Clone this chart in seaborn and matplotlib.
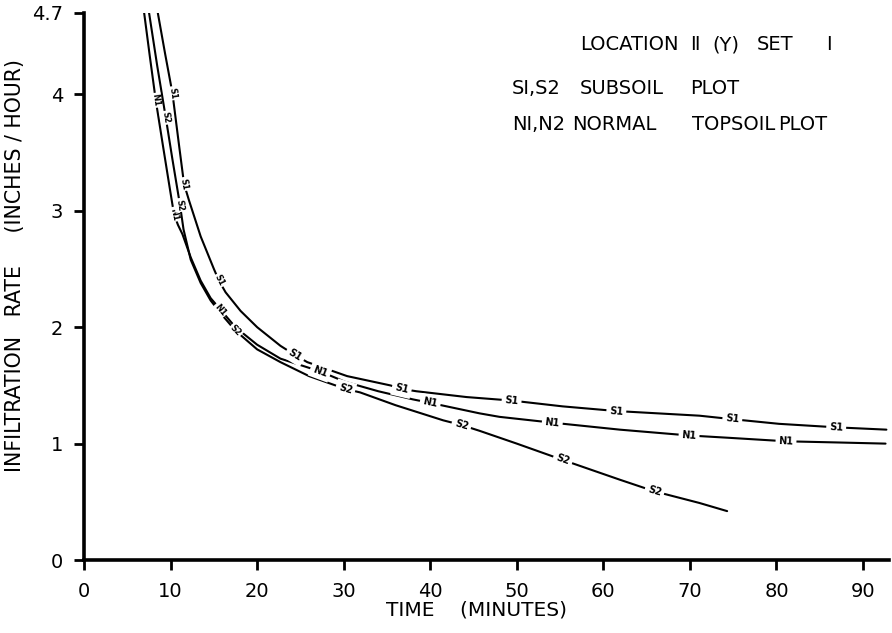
import numpy as np
import pandas as pd
import matplotlib
matplotlib.use("Agg")
import matplotlib.pyplot as plt
import seaborn as sns

# ---- data ----
s1_time = [8.53, 9.37, 10.22, 10.9, 11.56, 12.13, 13.48, 15.01, 15.59, 16.36, 18.09, 20.01, 22.7, 24.4, 25.8,
           30.4, 35.4, 36.7, 38.4, 44.2, 49.4, 55.3, 61.5, 71.1, 74.9, 80.3, 86.9, 92.7]
s1_rate = [4.70, 4.35, 4.01, 3.61, 3.23, 3.09, 2.78, 2.50, 2.40, 2.30, 2.14, 2.00, 1.84, 1.76, 1.70,
           1.58, 1.50, 1.47, 1.45, 1.40, 1.37, 1.32, 1.28, 1.24, 1.21, 1.17, 1.14, 1.12]

n1_time = [6.95, 7.6, 8.29, 9.12, 9.94, 10.40, 10.85, 11.37, 12.33, 13.48, 14.63, 15.78, 17.5, 20.0, 22.7, 27.3,
           30.2, 34.0, 38.0, 40.0, 45.7, 48.0, 54.1, 61.9, 69.9, 74.5, 81.1, 87.0, 92.6]
n1_rate = [4.70, 4.33, 3.95, 3.56, 3.18, 2.97, 2.88, 2.80, 2.60, 2.40, 2.25, 2.15, 2.00, 1.85, 1.73, 1.62,
           1.53, 1.45, 1.38, 1.35, 1.26, 1.23, 1.18, 1.12, 1.07, 1.05, 1.02, 1.01, 1.00]

s2_time = [7.52, 8.45, 9.45, 10.2, 11.09, 11.5, 12.33, 13.48, 14.63, 15.78, 17.51, 20.0, 22.7, 26.0, 30.2,
           31.9, 36.0, 41.5, 43.6, 45.7, 50.0, 55.3, 61.9, 65.9, 71.1, 74.3]
s2_rate = [4.70, 4.25, 3.80, 3.45, 3.05, 2.84, 2.58, 2.38, 2.23, 2.12, 1.97, 1.81, 1.70, 1.58, 1.47,
           1.44, 1.33, 1.20, 1.16, 1.11, 1.00, 0.86, 0.69, 0.59, 0.49, 0.42]

s1_label_time = [10.22, 11.56, 15.59, 24.4, 36.7, 49.4, 61.5, 74.9, 86.9]
n1_label_time = [8.29, 10.40, 15.78, 27.3, 40.0, 54.1, 69.9, 81.1]
s2_label_time = [9.45, 11.09, 17.51, 30.2, 43.6, 55.3, 65.9]

x_ticks = [0, 10, 20, 30, 40, 50, 60, 70, 80, 90]
y_ticks = [0, 1, 2, 3, 4, 4.7]
y_tick_labels = ["0", "1", "2", "3", "4", "4.7"]

title_words = ["LOCATION", "\u2161", "(Y)", "SET", "I"]
row1_words = ["SI,S2", "SUBSOIL", "PLOT"]
row2_words = ["NI,N2", "NORMAL", "TOPSOIL", "PLOT"]

# ---- plotting ----
sns.set_theme(style="ticks")
plt.rcParams['font.family'] = ['DejaVu Sans']
plt.rcParams['axes.labelcolor'] = 'black'
plt.rcParams['text.color'] = 'black'

W, H = 892, 633
fig = plt.figure(figsize=(W / 100, H / 100), dpi=100)
ax = fig.add_axes([84 / W, (H - 560) / H, (889 - 84) / W, (560 - 13) / H])

series = {"S1": (s1_time, s1_rate, s1_label_time),
          "N1": (n1_time, n1_rate, n1_label_time),
          "S2": (s2_time, s2_rate, s2_label_time)}

df = pd.concat([pd.DataFrame({"time": t, "rate": r, "series": k}) for k, (t, r, _) in series.items()],
               ignore_index=True)

sns.lineplot(data=df, x="time", y="rate", units="series", estimator=None,
             color="black", lw=1.5, ax=ax, legend=False, sort=False)

ax.set_xlim(0, 93)
ax.set_ylim(0, 4.7)
ax.set_xticks(x_ticks)
ax.set_yticks(y_ticks)
ax.set_yticklabels(y_tick_labels)
ax.tick_params(axis="both", direction="out", length=7, width=2, labelsize=14, colors="black")
ax.tick_params(axis="y", pad=8)
ax.tick_params(axis="x", pad=9)
for side in ["top", "right"]:
    ax.spines[side].set_visible(False)
for side in ["left", "bottom"]:
    ax.spines[side].set_linewidth(2.6)
    ax.spines[side].set_color("black")
    ax.spines[side].set_capstyle("projecting")

ax.set_xlabel("TIME    (MINUTES)", fontsize=14.5, color="black")
ax.xaxis.set_label_coords((477 - 84) / (889 - 84), -(610 - 560) / 547, transform=ax.transAxes)
ax.xaxis.label.set_va("center")
ax.set_ylabel("INFILTRATION   RATE     (INCHES / HOUR)", fontsize=14.8, color="black")
ax.yaxis.set_label_coords(-(84 - 15) / (889 - 84), (560 - 265) / 547)
ax.yaxis.label.set_va("center")

fig.canvas.draw()

# in-line curve labels with gaps
for name, (t, r, lt) in series.items():
    for tt in lt:
        yy = np.interp(tt, t, r)
        dt = 0.25
        p0 = ax.transData.transform((tt - dt, np.interp(tt - dt, t, r)))
        p1 = ax.transData.transform((tt + dt, np.interp(tt + dt, t, r)))
        ang = np.degrees(np.arctan2(p1[1] - p0[1], p1[0] - p0[0]))
        steep = abs(ang) > 45
        ax.text(tt, yy, name, fontsize=6 if steep else 7, fontweight="bold", rotation=ang,
                rotation_mode="anchor", ha="center", va="center",
                bbox=dict(facecolor="white", edgecolor="none", pad=0.8 if steep else 2.2), zorder=5)

def put_words(words, xs, y, size):
    for w, x in zip(words, xs):
        fig.text(x / W, 1 - y / H, w, fontsize=size, va="center", ha="left", color="black")

put_words(title_words, [580, 690, 712, 757, 826], 45, 14)
put_words(row1_words, [512, 580, 690], 89, 14)
put_words(row2_words, [512, 572, 692, 778], 125, 14)

fig.savefig("out.png", dpi=100)
